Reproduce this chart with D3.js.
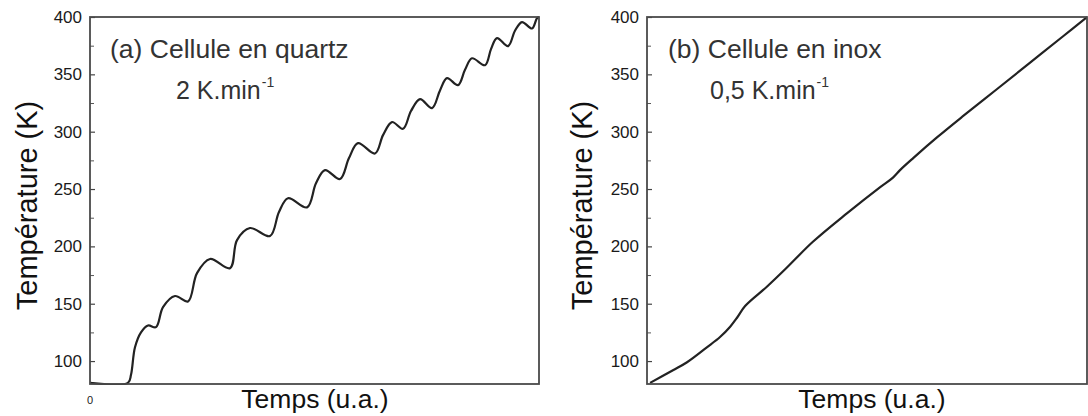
<!DOCTYPE html>
<html><head><meta charset="utf-8">
<script src="https://cdn.jsdelivr.net/npm/d3@7"></script>
<style>
body{margin:0;background:#fff}
svg{display:block}
text{font-family:"Liberation Sans",Arial,Helvetica,sans-serif}
</style>
</head><body><svg id="c" width="1088" height="416"></svg>
<script>
// ---- data ----
const quartzTime = [0, 8.46, 9.13, 10.02, 11.36, 12.92, 14.70, 16.26, 18.93, 21.83, 23.83, 26.73, 31.18, 32.74, 35.63, 40.09, 42.09, 44.10, 48.33, 50.33, 52.34, 55.68, 57.68, 59.69, 63.47, 65.26, 67.26, 69.71, 71.49, 73.50, 76.17, 77.95, 79.51, 81.96, 83.52, 85.08, 87.97, 89.31, 90.65, 93.10, 94.65, 96.21, 98.44, 99.55, 100];
const quartzTemp = [81, 81, 88, 112, 125, 131, 129.6, 147, 156.7, 152, 176.7, 189, 181, 205.5, 216, 209, 230, 242, 234, 255, 266.5, 258.7, 277, 290, 281, 297, 308.4, 302.5, 318, 328.4, 320.6, 336, 346.7, 340.6, 354, 364, 358, 372, 381.6, 374.6, 388, 395.6, 390, 399, 400];
const inoxTime = [0.7, 5.9, 9.1, 13.6, 16.6, 18.9, 20.5, 22.3, 27.3, 31.4, 37.7, 45.5, 53.0, 55.9, 57.5, 60.5, 65.9, 71.8, 79.5, 87.0, 94.5, 100];
const inoxTemp = [81, 92, 99, 112, 121, 130, 138, 148, 165, 180, 204, 229, 251.7, 260, 266.5, 277, 295, 313.5, 337, 360, 383, 400];

const yMajorTicks = [100, 150, 200, 250, 300, 350, 400];
const yMinorTicks = [125, 175, 225, 275, 325, 375];
const panelLabels = ["(a) Cellule en quartz", "(b) Cellule en inox"];
const rateLabels = ["2 K.min", "0,5 K.min"];
const rateExponent = "-1";
const yTitle = "Température (K)";
const xTitle = "Temps (u.a.)";
const xOriginLabel = "0";

// ---- layout ----
const svg = d3.select("#c");
const plotTop = 17, plotBottom = 384;
const panels = [
  {x0: 90, x1: 539, time: quartzTime, temp: quartzTemp, label: panelLabels[0], rate: rateLabels[0],
   labelX: 110, rateX: 176, titleX: 27, xTitleX: 315, origin: true},
  {x0: 647, x1: 1087, time: inoxTime, temp: inoxTemp, label: panelLabels[1], rate: rateLabels[1],
   labelX: 668, rateX: 710, titleX: 582, xTitleX: 872, origin: false}
];

const y = d3.scaleLinear().domain([80, 400]).range([plotBottom, plotTop]);

panels.forEach((p, i) => {
  const x = d3.scaleLinear().domain([0, 100]).range([p.x0, p.x1]);
  const g = svg.append("g");

  // minor ticks
  g.append("g").attr("transform", `translate(${p.x0},0)`)
    .call(d3.axisLeft(y).tickValues(yMinorTicks).tickSize(-4).tickFormat(""))
    .call(s => s.select(".domain").remove())
    .call(s => s.selectAll("line").attr("stroke", "#555").attr("stroke-width", 1));

  // major ticks + labels
  g.append("g").attr("transform", `translate(${p.x0},0)`)
    .call(d3.axisLeft(y).tickValues(yMajorTicks).tickSize(-5).tickPadding(8).tickFormat(d3.format("d")))
    .call(s => s.select(".domain").remove())
    .call(s => s.selectAll("line").attr("stroke", "#444").attr("stroke-width", 1.2))
    .call(s => s.selectAll("text").attr("font-size", 17).attr("fill", "#1a1a1a")
      .attr("font-family", '"Liberation Sans",Arial,sans-serif'));

  // curve
  const clipId = "clip" + i;
  svg.append("clipPath").attr("id", clipId).append("rect")
    .attr("x", p.x0).attr("y", plotTop - 2).attr("width", p.x1 - p.x0).attr("height", plotBottom - plotTop + 3);
  const line = d3.line().x(d => x(d[0])).y(d => y(Math.max(d[1], 81))).curve(d3.curveCatmullRom.alpha(0.5));
  g.append("path").datum(d3.zip(p.time, p.temp))
    .attr("clip-path", `url(#${clipId})`)
    .attr("d", line).attr("fill", "none").attr("stroke", "#222").attr("stroke-width", 2.2)
    .attr("stroke-linejoin", "round");

  // frame
  g.append("rect").attr("x", p.x0).attr("y", plotTop).attr("width", p.x1 - p.x0).attr("height", plotBottom - plotTop)
    .attr("fill", "none").attr("stroke", "#4a4a4a").attr("stroke-width", 1.8);

  // annotations
  g.append("text").attr("x", p.labelX).attr("y", 58).attr("font-size", 26.5).attr("fill", "#333")
    .text(p.label);
  const t2 = g.append("text").attr("x", p.rateX).attr("y", 99).attr("font-size", 25).attr("fill", "#333");
  t2.append("tspan").text(p.rate);
  t2.append("tspan").attr("font-size", 14).attr("dy", -12).attr("dx", 1).text(rateExponent);

  // axis titles
  g.append("text").attr("transform", `translate(${p.titleX},${(plotTop + plotBottom) / 2 + 5}) rotate(-90)`)
    .attr("text-anchor", "middle").attr("dy", "0.35em").attr("font-size", 29).attr("fill", "#111")
    .text(yTitle);
  g.append("text").attr("x", p.xTitleX).attr("y", 408).attr("text-anchor", "middle")
    .attr("font-size", 26.5).attr("fill", "#111").text(xTitle);

  if (p.origin) {
    g.append("text").attr("x", x(0)).attr("y", 404).attr("text-anchor", "middle")
      .attr("font-size", 11).attr("fill", "#222").text(xOriginLabel);
  }
});
</script>
</body></html>
